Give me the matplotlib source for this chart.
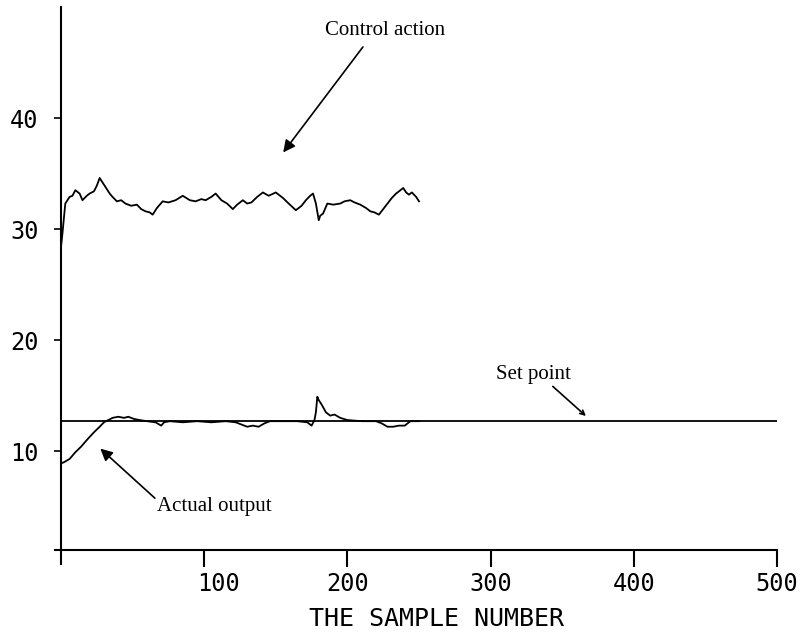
import matplotlib
matplotlib.use("Agg")
import matplotlib.pyplot as plt
from matplotlib.transforms import ScaledTranslation

# control action
ctrl_n = [0, 1, 3, 6, 8, 10, 13, 15, 18, 20, 23, 25, 27, 29, 31, 34, 36, 39, 42, 45,
          49, 53, 56, 59, 62, 64, 67, 71, 75, 80, 85, 90, 94, 98, 101, 105, 108, 112,
          116, 120, 123, 127, 130, 133, 137, 141, 145, 150, 155, 159, 164, 168, 171,
          174, 176, 178, 180, 181, 183, 186, 190, 195, 198, 202, 205, 209, 213, 216,
          219, 222, 225, 228, 231, 234, 237, 239, 241, 243, 245, 248, 250]
ctrl_v = [28.4, 29.6, 32.3, 32.9, 33.0, 33.5, 33.2, 32.6, 33.0, 33.2, 33.4, 33.9, 34.6,
          34.2, 33.8, 33.2, 32.9, 32.5, 32.6, 32.3, 32.1, 32.2, 31.8, 31.6, 31.5, 31.3,
          31.9, 32.5, 32.4, 32.6, 33.0, 32.6, 32.5, 32.7, 32.6, 32.9, 33.2, 32.6, 32.3,
          31.8, 32.2, 32.6, 32.3, 32.4, 32.9, 33.3, 33.0, 33.3, 32.8, 32.3, 31.7, 32.1,
          32.6, 33.0, 33.2, 32.3, 30.8, 31.2, 31.4, 32.3, 32.2, 32.3, 32.5, 32.6, 32.4,
          32.2, 31.9, 31.6, 31.5, 31.3, 31.8, 32.3, 32.8, 33.2, 33.5, 33.7, 33.3, 33.1,
          33.3, 32.9, 32.5]

# actual output
out_n = [0, 2, 6, 10, 14, 18, 23, 27, 30, 33, 36, 40, 44, 47, 51, 55, 60, 66, 70, 72,
         76, 85, 95, 105, 115, 122, 126, 130, 134, 138, 142, 146, 155, 165, 172, 175,
         177, 178, 179, 180, 182, 185, 188, 191, 195, 200, 210, 220, 224, 228, 232,
         236, 240, 244, 250]
out_v = [8.9, 9.0, 9.3, 9.9, 10.4, 11.0, 11.7, 12.2, 12.6, 12.8, 13.0, 13.1, 13.0, 13.1,
         12.9, 12.8, 12.7, 12.6, 12.3, 12.6, 12.7, 12.6, 12.7, 12.6, 12.7, 12.6, 12.4,
         12.2, 12.3, 12.2, 12.5, 12.7, 12.7, 12.7, 12.6, 12.3, 12.8, 13.5, 14.9, 14.6,
         14.2, 13.5, 13.2, 13.3, 13.0, 12.8, 12.7, 12.7, 12.5, 12.2, 12.2, 12.3, 12.3,
         12.7, 12.7]

set_point = 12.7
sp_n = [0, 500]

x_ticks = [100, 200, 300, 400, 500]
y_ticks = [10, 20, 30, 40]

mono = "DejaVu Sans Mono"
serif = "Liberation Serif"

fig = plt.figure(figsize=(8.06, 6.34), dpi=100)
ax = fig.add_axes([61 / 806, 84 / 634, 716 / 806, 543 / 634])

ax.plot(sp_n, [set_point, set_point], color="black", lw=1.3)
ax.plot(out_n, out_v, color="black", lw=1.3)
ax.plot(ctrl_n, ctrl_v, color="black", lw=1.3)

ax.set_xlim(0, 500)
ax.set_ylim(1.1, 50)
for s in ["top", "right"]:
    ax.spines[s].set_visible(False)
for s in ["left", "bottom"]:
    ax.spines[s].set_linewidth(1.5)

ax.set_xticks(x_ticks)
ax.set_yticks(y_ticks)
ax.set_xticklabels([str(t) for t in x_ticks], family=mono, fontsize=17)
ax.set_yticklabels([str(t) for t in y_ticks], family=mono, fontsize=17)
ax.tick_params(axis="x", direction="out", length=12, width=1.5, pad=4)
ax.tick_params(axis="y", direction="out", length=5, width=1.2, pad=11)
ax.set_xlabel("THE SAMPLE NUMBER", family=mono, fontsize=18)
ax.xaxis.set_label_coords(0.525, -0.105)

# the "100" label sits a bit right of its tick in the original
lbl = ax.get_xticklabels()[0]
lbl.set_transform(lbl.get_transform() + ScaledTranslation(14 / 100, 0, fig.dpi_scale_trans))

# little overhang at the origin
ax.plot([-0.008, 0], [0, 0], transform=ax.transAxes, color="black", lw=1.5, clip_on=False)
ax.plot([0, 0], [-0.025, 0], transform=ax.transAxes, color="black", lw=1.5, clip_on=False)

# annotations
ax.text(226, 47.9, "Control action", family=serif, fontsize=15, ha="center", va="center")
ax.annotate("", xy=(154, 36.7), xytext=(212, 46.6),
            arrowprops=dict(arrowstyle="-|>", color="black", lw=1.2, mutation_scale=18))

ax.text(330, 16.9, "Set point", family=serif, fontsize=15, ha="center", va="center")
ax.annotate("", xy=(368, 13.0), xytext=(342, 16.0),
            arrowprops=dict(arrowstyle="->", color="black", lw=1.2, mutation_scale=8))

ax.text(67, 5.0, "Actual output", family=serif, fontsize=15, ha="left", va="center")
ax.annotate("", xy=(26, 10.4), xytext=(67, 5.6),
            arrowprops=dict(arrowstyle="-|>", color="black", lw=1.2, mutation_scale=18))

fig.savefig("out.png", dpi=100)
